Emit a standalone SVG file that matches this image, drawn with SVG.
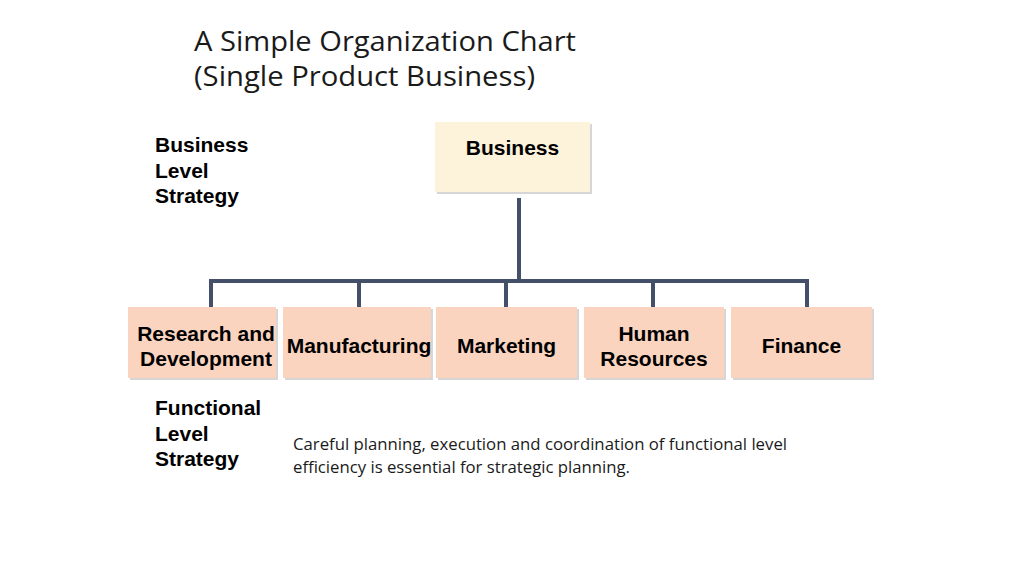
<svg xmlns="http://www.w3.org/2000/svg" width="1024" height="576" viewBox="0 0 1024 576">
<style>
.title{font-family:"Open Sans","Noto Sans",sans-serif;font-size:28px;fill:#1a1a1a}
.lbl{font-family:"Liberation Sans",Arial,sans-serif;font-size:21px;font-weight:bold;fill:#000}
.ctr{text-anchor:middle}
.note{font-family:"Open Sans","Noto Sans",sans-serif;font-size:16px;fill:#1a1a1a}
.shadow{fill:#d6d6d6}
.top{fill:#FDF2DA}
.fn{fill:#FBD4C0}
.conn{stroke:#445069;stroke-width:4;fill:none;stroke-linejoin:miter}
</style>
<rect width="1024" height="576" fill="#fff"/>
<g id="title">
<text class="title" x="194" y="51" textLength="382" lengthAdjust="spacingAndGlyphs">A Simple Organization Chart</text>
<text class="title" x="194" y="86" textLength="341" lengthAdjust="spacingAndGlyphs">(Single Product Business)</text>
</g>
<g id="business-level-label">
<text class="lbl" x="155" y="152">Business</text>
<text class="lbl" x="155" y="178">Level</text>
<text class="lbl" x="155" y="203">Strategy</text>
</g>
<g id="connectors">
<path class="conn" d="M519 198 V281"/>
<path class="conn" d="M211 307 V281 H807 V307"/>
<path class="conn" d="M359 281 V307"/>
<path class="conn" d="M506 281 V307"/>
<path class="conn" d="M653 281 V307"/>
</g>
<g id="node-business">
<rect class="shadow" x="437" y="124" width="155" height="70"/>
<rect class="top" x="435" y="122" width="155" height="70"/>
<text class="lbl ctr" x="512.5" y="155">Business</text>
</g>
<g id="node-rd">
<rect class="shadow" x="130" y="309" width="148" height="71"/>
<rect class="fn" x="128" y="307" width="148" height="71"/>
<text class="lbl ctr" x="206" y="341">Research and</text>
<text class="lbl ctr" x="206" y="366">Development</text>
</g>
<g id="node-manufacturing">
<rect class="shadow" x="285" y="309" width="148" height="71"/>
<rect class="fn" x="283" y="307" width="148" height="71"/>
<text class="lbl ctr" x="359" y="353">Manufacturing</text>
</g>
<g id="node-marketing">
<rect class="shadow" x="438" y="309" width="141" height="71"/>
<rect class="fn" x="436" y="307" width="141" height="71"/>
<text class="lbl ctr" x="506.5" y="353">Marketing</text>
</g>
<g id="node-hr">
<rect class="shadow" x="586" y="309" width="140" height="71"/>
<rect class="fn" x="584" y="307" width="140" height="71"/>
<text class="lbl ctr" x="654" y="341">Human</text>
<text class="lbl ctr" x="654" y="366">Resources</text>
</g>
<g id="node-finance">
<rect class="shadow" x="733" y="309" width="141" height="71"/>
<rect class="fn" x="731" y="307" width="141" height="71"/>
<text class="lbl ctr" x="801.5" y="353">Finance</text>
</g>
<g id="functional-level-label">
<text class="lbl" x="155" y="415">Functional</text>
<text class="lbl" x="155" y="441">Level</text>
<text class="lbl" x="155" y="466">Strategy</text>
</g>
<g id="note">
<text class="note" x="293" y="450" textLength="494" lengthAdjust="spacingAndGlyphs">Careful planning, execution and coordination of functional level</text>
<text class="note" x="293" y="473" textLength="337" lengthAdjust="spacingAndGlyphs">efficiency is essential for strategic planning.</text>
</g>
</svg>
